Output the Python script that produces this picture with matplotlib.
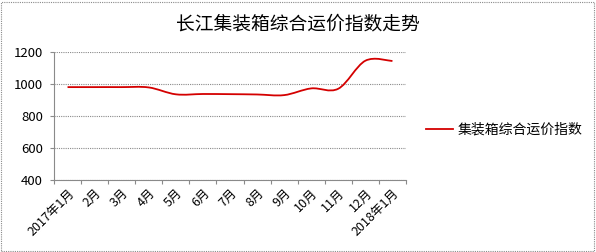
import matplotlib.pyplot as plt
import numpy as np
from matplotlib.path import Path
from matplotlib.patches import PathPatch, Rectangle
from matplotlib.lines import Line2D

plt.rcParams['font.family'] = ['Noto Sans CJK SC', 'DejaVu Sans']

months = ['2017年1月', '2月', '3月', '4月', '5月', '6月', '7月', '8月', '9月',
          '10月', '11月', '12月', '2018年1月']
index = [980, 980, 980, 978, 935, 937, 936, 934, 930, 972, 970, 1145, 1143]
series_name = '集装箱综合运价指数'
title = '长江集装箱综合运价指数走势'

fig = plt.figure(figsize=(5.96, 2.52), dpi=100)
ax = fig.add_axes([0.0906, 0.286, 0.5906, 0.508])

# smoothed line (cardinal bezier like the spreadsheet chart)
x = np.arange(len(index), dtype=float)
y = np.array(index, dtype=float)
t = 1.0 / 6
verts = [(x[0], y[0])]
codes = [Path.MOVETO]
for i in range(len(x) - 1):
    x0, y0 = (x[i - 1], y[i - 1]) if i > 0 else (x[i], y[i])
    x3, y3 = (x[i + 2], y[i + 2]) if i + 2 < len(x) else (x[i + 1], y[i + 1])
    c1 = (x[i] + (x[i + 1] - x0) * t, y[i] + (y[i + 1] - y0) * t)
    c2 = (x[i + 1] - (x3 - x[i]) * t, y[i + 1] - (y3 - y[i]) * t)
    verts += [c1, c2, (x[i + 1], y[i + 1])]
    codes += [Path.CURVE4] * 3
ax.add_patch(PathPatch(Path(verts, codes), fill=False, edgecolor='#d40000', lw=1.3))

ax.set_xlim(-0.5, len(months) - 0.5)
ax.set_ylim(400, 1200)
ax.set_yticks(range(400, 1201, 200))
ax.yaxis.grid(True, color='#8a8a8a', ls=(0, (1, 1)), lw=0.8)
ax.set_axisbelow(True)
ax.set_xticks(np.arange(-0.5, len(months)), minor=False)
ax.set_xticklabels([])
ax.set_xticks(x, minor=True)
ax.set_xticklabels(months, minor=True, rotation=45, ha='right', va='top',
                   rotation_mode='anchor', fontsize=9)
ax.tick_params(axis='x', which='major', length=3, color='#8a8a8a', direction='out')
ax.tick_params(axis='x', which='minor', length=0, pad=5)
ax.tick_params(axis='y', length=3, color='#8a8a8a', labelsize=9.5, pad=5)
for s in ['top', 'right']:
    ax.spines[s].set_visible(False)
for s in ['left', 'bottom']:
    ax.spines[s].set_color('#8a8a8a')
    ax.spines[s].set_linestyle((0, (1, 1)))
    ax.spines[s].set_linewidth(0.8)

fig.text(0.50, 0.905, title, ha='center', va='center', fontsize=13.5)

ax.legend([Line2D([], [], color='#d40000', lw=1.3)], [series_name],
          loc='center left', bbox_to_anchor=(1.02, 0.39), frameon=False,
          fontsize=10, handlelength=2.0, handletextpad=0.3)

fig.patches.append(Rectangle((0.002, 0.004), 0.995, 0.99, transform=fig.transFigure,
                             fill=False, edgecolor='#8a8a8a', ls=(0, (1, 1)), lw=0.8))

fig.savefig('out.png', dpi=100)
